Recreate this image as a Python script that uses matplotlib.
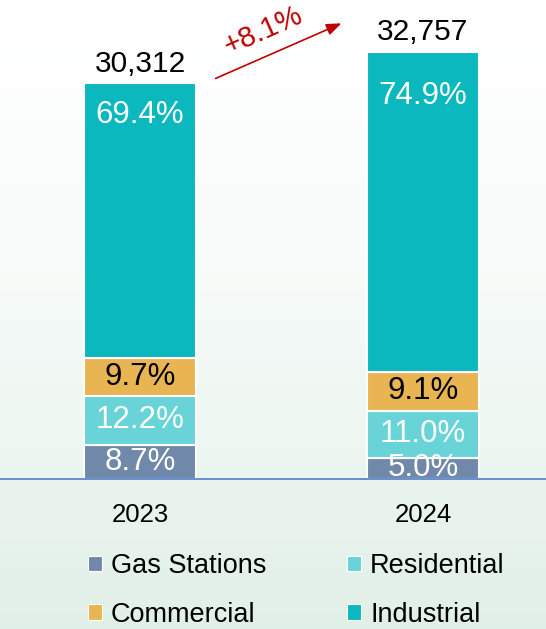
import matplotlib
matplotlib.use("Agg")
import matplotlib.pyplot as plt
import numpy as np
from matplotlib.patches import Patch
from matplotlib.colors import LinearSegmentedColormap

plt.rcParams['font.family'] = ['Liberation Sans', 'DejaVu Sans']

years = ["2023", "2024"]
totals = [30312, 32757]
categories = ["Gas Stations", "Residential", "Commercial", "Industrial"]
shares = {
    "Gas Stations": [8.7, 5.0],
    "Residential": [12.2, 11.0],
    "Commercial": [9.7, 9.1],
    "Industrial": [69.4, 74.9],
}
colors = {
    "Gas Stations": "#7089AB",
    "Residential": "#68D4D7",
    "Commercial": "#E9B452",
    "Industrial": "#0BB8BE",
}
label_colors = {
    "Gas Stations": "white",
    "Residential": "white",
    "Commercial": "black",
    "Industrial": "white",
}
growth_label = "+8.1%"

W, H = 546, 629
fig = plt.figure(figsize=(W / 100, H / 100), dpi=100)

# background gradient
bg = fig.add_axes([0, 0, 1, 1], zorder=-10)
cmap = LinearSegmentedColormap.from_list("bg", ["#FFFFFF", "#F8FCFA", "#EDF6F1", "#E1F0E7"])
grad = np.linspace(0, 1, 256).reshape(-1, 1) ** 1.2
bg.imshow(grad, aspect="auto", cmap=cmap, extent=[0, 1, 0, 1])
bg.axis("off")

base_px = 479
ax = fig.add_axes([0, (H - base_px) / H, 1, base_px / H])
ax.patch.set_alpha(0)
scale = 76.64
ax.set_ylim(0, base_px * scale)
c0, c1 = 140, 423
u = 1 / (c1 - c0)
ax.set_xlim(-c0 * u, (W - c0) * u)

top_label_offset_px = [32, 44]

x = np.arange(len(years))
bottoms = np.zeros(len(years))
for cat in categories:
    vals = np.array(shares[cat]) / 100 * np.array(totals)
    ax.bar(x, vals, bottom=bottoms, width=0.395, color=colors[cat],
           edgecolor="white", linewidth=1.5)
    for i in range(len(years)):
        if cat == "Industrial":
            yy = bottoms[i] + vals[i] - top_label_offset_px[i] * scale
        else:
            yy = bottoms[i] + vals[i] / 2
        ax.text(x[i], yy, f"{shares[cat][i]:.1f}%", ha="center", va="center",
                fontsize=22.5, color=label_colors[cat])
    bottoms += vals

for i in range(len(years)):
    ax.text(x[i], totals[i] + 450, f"{totals[i]:,}", ha="center", va="bottom",
            fontsize=21.5, color="black")

for s in ["top", "right", "left"]:
    ax.spines[s].set_visible(False)
ax.spines["bottom"].set_color("#5A86CC")
ax.spines["bottom"].set_linewidth(1.3)
ax.set_yticks([])
ax.set_xticks(x)
ax.set_xticklabels(years, fontsize=18.5)
ax.tick_params(axis="x", length=0, pad=17)

# growth arrow
ax.annotate("", xy=(1 - 79 * u, totals[1] + 2250), xytext=(x[0] + 73 * u, totals[0] + 300),
            arrowprops=dict(arrowstyle="-|>,head_length=0.9,head_width=0.35", color="#C00000", lw=1.2))
ax.text(0.5 - 18 * u, 31800 + 2550, growth_label, ha="center", va="center", rotation=24,
        fontsize=21, color="#C00000")

order = ["Gas Stations", "Commercial", "Residential", "Industrial"]
handles = [Patch(facecolor=colors[c], edgecolor="white", lw=0.8) for c in order]
fig.legend(handles, order, ncol=2, loc="upper left", bbox_to_anchor=(88 / W, 1 - 553 / H),
           frameon=False, fontsize=19.5, handlelength=0.52, handleheight=0.52,
           handletextpad=0.32, columnspacing=3.0, labelspacing=0.84, borderaxespad=0, borderpad=0)

fig.savefig("out.png", dpi=100)
